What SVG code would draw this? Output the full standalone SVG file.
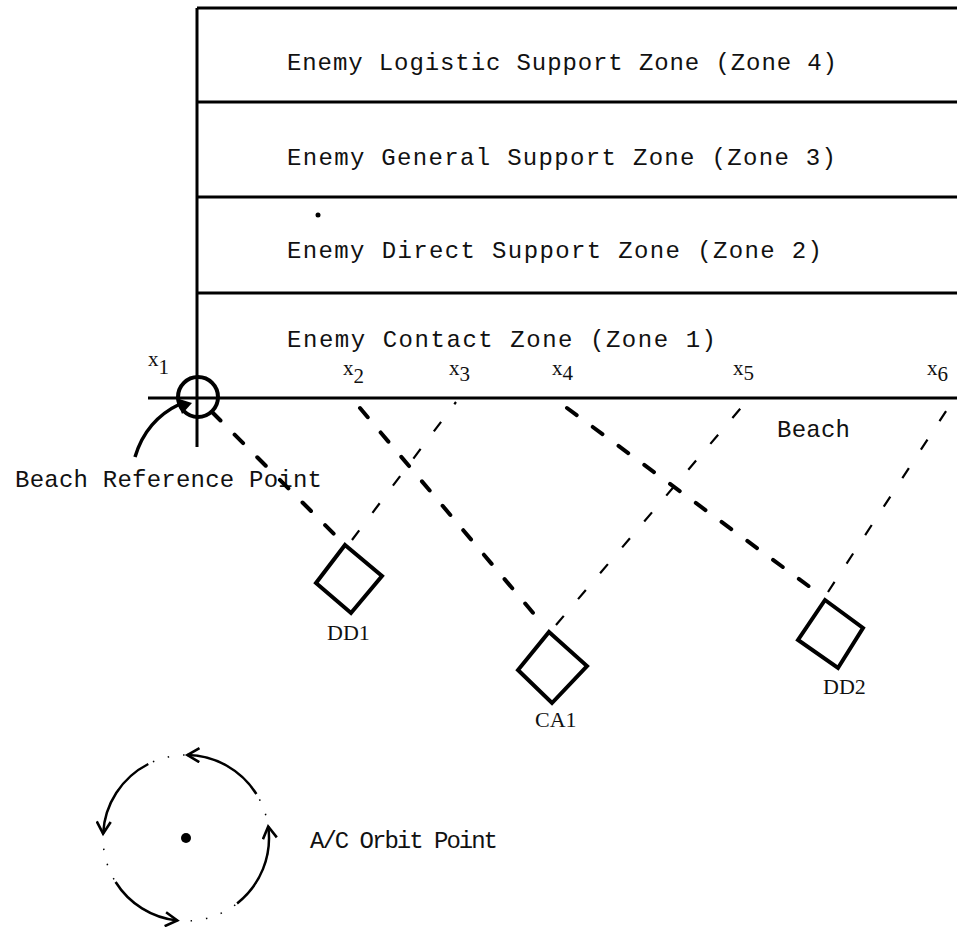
<svg xmlns="http://www.w3.org/2000/svg" width="957" height="927" viewBox="0 0 957 927">
<defs>
<style>
.ln{stroke:#000;stroke-width:3;fill:none}
.zt{font-family:"Liberation Mono","DejaVu Sans Mono",monospace;font-size:24px;fill:#111}
.sr{font-family:"Liberation Serif","Times New Roman",serif;font-size:22px;fill:#111}
.xl{font-family:"Liberation Serif","Times New Roman",serif;font-size:21px;fill:#111}
.heavy{stroke:#000;stroke-width:4;stroke-dasharray:12 20;fill:none;stroke-linecap:round}
.thin{stroke:#000;stroke-width:2.2;stroke-dasharray:12 22;fill:none}
.dia{stroke:#000;stroke-width:4;fill:#fff;stroke-linejoin:miter}
.orb{stroke:#000;stroke-width:2.5;fill:none}
</style>
<marker id="chev" viewBox="0 0 16 16" refX="13" refY="8" markerWidth="16" markerHeight="16" markerUnits="userSpaceOnUse" orient="auto">
<path d="M1,1 L13,8 L1,15" fill="none" stroke="#000" stroke-width="2.6"/>
</marker>
</defs>
<rect width="957" height="927" fill="#fff"/>

<g id="zones">
<line class="ln" x1="197" y1="8" x2="957" y2="8"/>
<line class="ln" x1="197" y1="102" x2="957" y2="102"/>
<line class="ln" x1="197" y1="197" x2="957" y2="197"/>
<line class="ln" x1="197" y1="293" x2="957" y2="293"/>
<line class="ln" x1="197" y1="8" x2="197" y2="447"/>
<text class="zt" x="287" y="70" textLength="550">Enemy Logistic Support Zone (Zone 4)</text>
<text class="zt" x="287" y="165" textLength="549">Enemy General Support Zone (Zone 3)</text>
<text class="zt" x="287" y="258" textLength="535">Enemy Direct Support Zone (Zone 2)</text>
<circle cx="318" cy="215" r="2.5" fill="#000"/>
<text class="zt" x="287" y="347" textLength="429">Enemy Contact Zone (Zone 1)</text>
</g>

<g id="beach">
<line class="ln" x1="148" y1="398" x2="957" y2="398"/>
<text class="zt" x="777" y="437" textLength="73">Beach</text>
</g>

<g id="labels-x">
<text class="xl" x="148" y="366">x<tspan dy="8">1</tspan></text>
<text class="xl" x="343" y="375">x<tspan dy="8">2</tspan></text>
<text class="xl" x="449" y="375">x<tspan dy="6">3</tspan></text>
<text class="xl" x="552" y="375">x<tspan dy="5">4</tspan></text>
<text class="xl" x="733" y="375">x<tspan dy="5">5</tspan></text>
<text class="xl" x="927" y="375">x<tspan dy="6">6</tspan></text>
</g>

<g id="brp">
<circle cx="198" cy="397" r="20" fill="none" stroke="#000" stroke-width="4"/>
<path d="M135,457 Q146,420 180,404" fill="none" stroke="#000" stroke-width="3.5"/>
<path d="M176,398 L192,403 L182,414 Z" fill="#000"/>
<text class="zt" x="15" y="487" textLength="307">Beach Reference Point</text>
</g>

<g id="connectors">
<line class="heavy" x1="212" y1="412" x2="342" y2="542"/>
<line class="thin" x1="352" y1="540" x2="456" y2="402"/>
<line class="heavy" x1="360" y1="408" x2="545" y2="627"/>
<line class="thin" x1="556" y1="625" x2="746" y2="402"/>
<line class="heavy" x1="567" y1="408" x2="818" y2="593"/>
<line class="thin" x1="828" y1="592" x2="952" y2="402"/>
</g>

<g id="DD1">
<polygon class="dia" points="345,545 382,576 351,613 316,583"/>
<text class="sr" x="327" y="640">DD1</text>
</g>

<g id="CA1">
<polygon class="dia" points="549,632 587,666 552,703 518,670"/>
<text class="sr" x="535" y="727">CA1</text>
</g>

<g id="DD2">
<polygon class="dia" points="825,600 863,628 838,668 798,640"/>
<text class="sr" x="823" y="694">DD2</text>
</g>

<g id="orbit">
<circle cx="186" cy="838" r="83" fill="none" stroke="#000" stroke-width="1.5" stroke-dasharray="1.5 14"/>
<circle cx="186" cy="838" r="5" fill="#000"/>
<path class="orb" d="M237.1,903.4 A83,83 0 0 0 268.2,826.5" marker-end="url(#chev)"/>
<path class="orb" d="M256.4,794.0 A83,83 0 0 0 187.4,755.0" marker-end="url(#chev)"/>
<path class="orb" d="M148.3,764.0 A83,83 0 0 0 103.1,833.7" marker-end="url(#chev)"/>
<path class="orb" d="M115.6,882.0 A83,83 0 0 0 177.3,920.5" marker-end="url(#chev)"/>
<text class="zt" x="310" y="848" font-size="21" textLength="188">A/C Orbit Point</text>
</g>
</svg>
